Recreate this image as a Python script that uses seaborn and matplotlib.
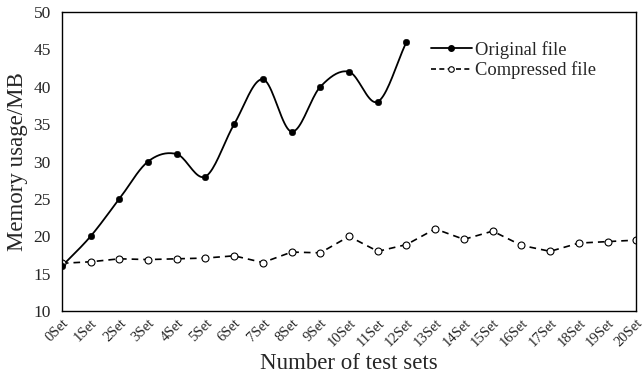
import matplotlib
matplotlib.use("Agg")
import matplotlib.pyplot as plt
import numpy as np
import seaborn as sns
from matplotlib.lines import Line2D

sets = [f"{i}Set" for i in range(21)]
original = [16, 20, 25, 30, 31, 28, 35, 41, 34, 40, 42, 38, 46]
compressed = [16.4, 16.6, 17.0, 16.9, 17.0, 17.1, 17.4, 16.5, 17.9, 17.8, 20.0,
              18.0, 18.9, 21.0, 19.6, 20.7, 18.8, 18.0, 19.1, 19.3, 19.5]

sns.set_style("white")
plt.rcParams["font.family"] = ["Liberation Serif", "DejaVu Serif"]


def smooth_curve(y, steps=20):
    # Catmull-Rom rendering of the smoothed line (like a spreadsheet "smooth line")
    y = np.asarray(y, dtype=float)
    p = np.concatenate([[2 * y[0] - y[1]], y, [2 * y[-1] - y[-2]]])
    xs, ys = [], []
    for i in range(len(y) - 1):
        t = np.linspace(0, 1, steps, endpoint=False)
        p0, p1, p2, p3 = p[i], p[i + 1], p[i + 2], p[i + 3]
        seg = 0.5 * ((2 * p1) + (-p0 + p2) * t + (2 * p0 - 5 * p1 + 4 * p2 - p3) * t**2
                     + (-p0 + 3 * p1 - 3 * p2 + p3) * t**3)
        xs.append(i + t)
        ys.append(seg)
    xs.append([len(y) - 1])
    ys.append([y[-1]])
    return np.concatenate(xs), np.concatenate(ys)


fig = plt.figure(figsize=(6.44, 3.74), dpi=100)
ax = fig.add_axes([0.096, 0.168, 0.892, 0.8])

cx, cy = smooth_curve(original)
sns.lineplot(x=cx, y=cy, color="black", lw=1.3, ax=ax)
sns.scatterplot(x=np.arange(len(original)), y=original, color="black", s=22,
                edgecolor="black", zorder=3, ax=ax)
sns.lineplot(x=np.arange(len(compressed)), y=compressed, color="black", lw=1.2,
             ls=(0, (4, 3)), marker="o", markersize=5, markerfacecolor="white",
             markeredgecolor="black", markeredgewidth=0.8, ax=ax)

handles = [
    Line2D([], [], color="black", lw=1.3, marker="o", markersize=4),
    Line2D([], [], color="black", lw=1.2, ls=(0, (3, 2)), marker="o", markersize=4,
           markerfacecolor="white", markeredgewidth=0.8),
]
ax.legend(handles, ["Original file", "Compressed file"], loc="upper left",
          bbox_to_anchor=(0.63, 0.928), frameon=False, fontsize=13.3,
          handlelength=2.2, handletextpad=0.2, labelspacing=0.15,
          borderaxespad=0)

ax.set_xlim(0, 20)
ax.set_ylim(10, 50)
ax.set_yticks(range(10, 51, 5))
ax.set_xticks(range(21))
ax.set_xticklabels(sets, rotation=45, ha="right", rotation_mode="anchor", fontsize=10.5)
ax.tick_params(axis="y", length=0, labelsize=12.5, pad=8)
ax.tick_params(axis="x", direction="in", length=4, color="#333333", pad=4)
for s in ax.spines.values():
    s.set_color("black")
    s.set_linewidth(1.0)
ax.set_xlabel("Number of test sets", fontsize=16.5, labelpad=2.5)
ax.set_ylabel("Memory usage/MB", fontsize=16.5, labelpad=4)

fig.savefig("out.png", dpi=100)
